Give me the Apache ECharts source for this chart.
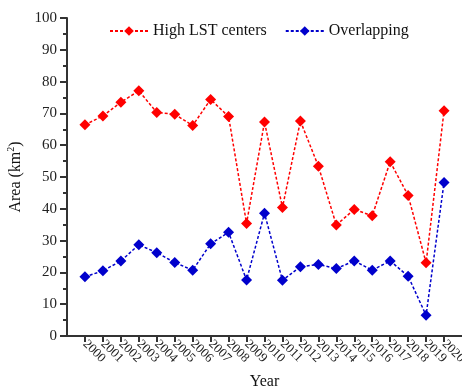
<!DOCTYPE html>
<html>
<head>
<meta charset="utf-8">
<script src="https://cdn.jsdelivr.net/npm/echarts@6/dist/echarts.min.js"></script>
<style>
  html, body { margin: 0; padding: 0; background: #fff; }
  #chart { width: 462px; height: 389px; }
</style>
</head>
<body>
<div id="chart"></div>
<script>
const years = ['2000', '2001', '2002', '2003', '2004', '2005', '2006', '2007', '2008', '2009', '2010',
  '2011', '2012', '2013', '2014', '2015', '2016', '2017', '2018', '2019', '2020'];
const highLST = [66.4, 69.2, 73.5, 77.1, 70.3, 69.7, 66.2, 74.4, 69.0, 35.4, 67.3,
  40.4, 67.6, 53.4, 34.9, 39.8, 37.8, 54.8, 44.2, 23.0, 70.8];
const overlapping = [18.6, 20.5, 23.6, 28.7, 26.2, 23.1, 20.7, 29.0, 32.6, 17.6, 38.6,
  17.5, 21.8, 22.5, 21.2, 23.6, 20.7, 23.6, 18.8, 6.5, 48.3];

// padding categories so the axis runs one step past each end
const categories = [''].concat(years, ['']);

const font = 'Liberation Serif, Times New Roman, serif';
const axisColor = '#333';

const chart = echarts.init(document.getElementById('chart'));

const makeSeries = (name, values, color) => ({
  name: name,
  type: 'line',
  data: values.map((v, i) => [years[i], v]),
  symbol: 'diamond',
  symbolSize: 11,
  itemStyle: { color: color },
  lineStyle: { color: color, width: 1.5, type: [3, 2] },
  animation: false
});

chart.setOption({
  backgroundColor: '#fff',
  grid: { left: 67, right: 0, top: 18, bottom: 53, outerBoundsMode: 'none', containLabel: false },
  legend: {
    top: 18,
    left: 104,
    itemWidth: 38,
    itemHeight: 12,
    itemGap: 18,
    textStyle: { fontFamily: font, fontSize: 16, color: '#111' },
    data: ['High LST centers', 'Overlapping']
  },
  xAxis: {
    type: 'category',
    data: categories,
    boundaryGap: false,
    name: 'Year',
    nameLocation: 'middle',
    nameGap: 38,
    nameTextStyle: { fontFamily: font, fontSize: 16, color: '#111' },
    axisLine: { lineStyle: { color: axisColor, width: 2 } },
    axisTick: {
      interval: (i) => i > 0 && i < categories.length - 1,
      length: 6,
      inside: false,
      lineStyle: { color: axisColor, width: 2 }
    },
    axisLabel: {
      interval: 0,
      rotate: -45,
      margin: 6,
      fontFamily: font,
      fontSize: 13,
      color: '#222'
    },
    splitLine: { show: false }
  },
  yAxis: {
    type: 'value',
    min: 0,
    max: 100,
    interval: 10,
    name: 'Area (km{sup|2})',
    nameLocation: 'middle',
    nameGap: 36,
    nameTextStyle: {
      fontFamily: font, fontSize: 16, color: '#111',
      rich: { sup: { fontFamily: font, fontSize: 10, color: '#111', verticalAlign: 'top', padding: [0, 0, 8, 0] } }
    },
    axisLine: { show: true, lineStyle: { color: axisColor, width: 2 } },
    axisTick: { show: true, length: 7, lineStyle: { color: axisColor, width: 2 } },
    minorTick: { show: true, splitNumber: 2, length: 4, lineStyle: { color: axisColor, width: 2 } },
    axisLabel: { margin: 10, fontFamily: font, fontSize: 15, color: '#222' },
    splitLine: { show: false }
  },
  series: [
    makeSeries('High LST centers', highLST, '#ff0000'),
    makeSeries('Overlapping', overlapping, '#0000cc')
  ]
});
</script>
</body>
</html>
